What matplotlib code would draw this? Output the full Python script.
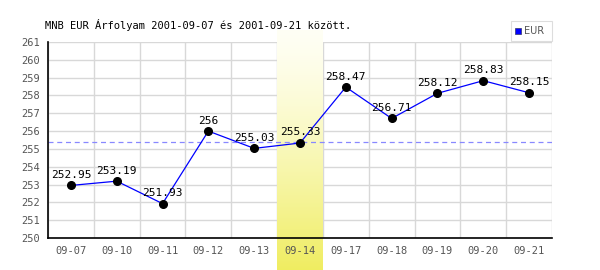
import matplotlib.pyplot as plt
import numpy as np

# Adatok
dates = ['09-07', '09-10', '09-11', '09-12', '09-13', '09-14',
         '09-17', '09-18', '09-19', '09-20', '09-21']
rates = [252.95, 253.19, 251.93, 256, 255.03, 255.33,
         258.47, 256.71, 258.12, 258.83, 258.15]
labels = ['252.95', '253.19', '251.93', '256', '255.03', '255.33',
          '258.47', '256.71', '258.12', '258.83', '258.15']
mid_line = 255.38
highlight = 5

fig = plt.figure(figsize=(6, 2.7), dpi=100)
ax = fig.add_axes([48/600, 1 - 238/270, 504/600, 196/270])
ax.set_axisbelow(False)
x = np.arange(len(dates))

ax.set_xlim(-0.5, len(dates) - 0.5)
ax.set_ylim(250, 261)

# grid
for i in range(len(dates) + 1):
    ax.axvline(i - 0.5, color='#d8d8d8', lw=1, zorder=1)
for yv in range(250, 262):
    ax.axhline(yv, color='#d8d8d8', lw=1, zorder=1)

# kiemelt nap
grad = np.linspace(0, 1, 256).reshape(-1, 1)
top = np.array([1.0, 1.0, 0.96])
bot = np.array([0.94, 0.93, 0.38])
img = top + (bot - top) * grad[:, :, None] ** 1.3
ax.imshow(img, extent=(highlight - 0.5, highlight + 0.5, 248.2, 261.65),
          aspect='auto', origin='upper', zorder=2, clip_on=False)

ax.axhline(mid_line, color='#8888ff', lw=0.9, ls=(0, (4, 3)), zorder=3)

ax.plot(x, rates, '-', color='#0000ff', lw=0.9, zorder=4)
ax.plot(x, rates, 'o', color='black', ms=5.5, zorder=5)
for xi, yi, lab in zip(x, rates, labels):
    ax.annotate(lab, (xi, yi), xytext=(0, 4), textcoords='offset points',
                ha='center', va='bottom', fontsize=8,
                family='DejaVu Sans Mono', color='black', zorder=6)

ax.set_xticks(x)
ax.set_xticklabels(dates)
ax.set_yticks(range(250, 262))
ax.tick_params(length=0, labelsize=7.5, colors='#555555', pad=6)
for t in ax.get_xticklabels() + ax.get_yticklabels():
    t.set_family('DejaVu Sans Mono')
for s in ['top', 'right']:
    ax.spines[s].set_visible(False)
ax.spines['left'].set_linewidth(1.2)
ax.spines['bottom'].set_linewidth(1.2)
ax.spines['left'].set_zorder(7)
ax.spines['bottom'].set_zorder(7)

fig.text(45/600, 1 - 25/270, 'MNB EUR Árfolyam 2001-09-07 és 2001-09-21 között.',
         fontsize=7.5, family='DejaVu Sans Mono', va='center', ha='left')

# jelmagyarazat
fig.patches.append(plt.Rectangle((511/600, 1 - 41/270), 41/600, 20/270,
                                 transform=fig.transFigure, fc='white',
                                 ec='#dddddd', lw=0.8))
fig.patches.append(plt.Rectangle((515/600, 1 - 34/270), 6/600, 6/270,
                                 transform=fig.transFigure, fc='#0000ff',
                                 ec='#333366', lw=0.5))
fig.text(524/600, 1 - 31/270, 'EUR', fontsize=7, color='#555555',
         va='center', ha='left')

plt.savefig('out.png', dpi=100)
